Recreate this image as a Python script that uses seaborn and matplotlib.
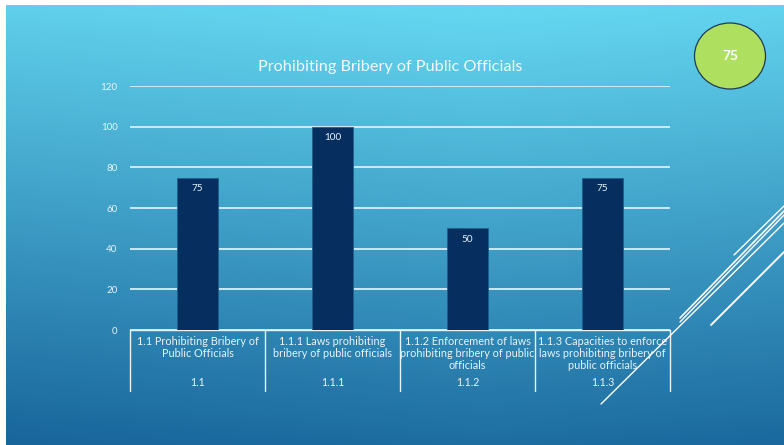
import numpy as np
import pandas as pd
import matplotlib
matplotlib.use("Agg")
import matplotlib.pyplot as plt
from matplotlib.patches import Ellipse
from matplotlib.lines import Line2D
import seaborn as sns

# ---- data -------------------------------------------------------------
categories = [
    "1.1 Prohibiting Bribery of\nPublic Officials",
    "1.1.1 Laws prohibiting\nbribery of public officials",
    "1.1.2 Enforcement of laws\nprohibiting bribery of public\nofficials",
    "1.1.3 Capacities to enforce\nlaws prohibiting bribery of\npublic officials",
]
codes = ["1.1", "1.1.1", "1.1.2", "1.1.3"]
scores = [75, 100, 50, 75]
yticks = [0, 20, 40, 60, 80, 100, 120]
title = "Prohibiting Bribery of Public Officials"
badge_score = 75

df = pd.DataFrame({"code": codes, "score": scores})

# ---- style ------------------------------------------------------------
sns.set_theme(style="white")
plt.rcParams["font.family"] = ["Lato", "DejaVu Sans"]

W, H = 784, 445
fig = plt.figure(figsize=(W / 100, H / 100), dpi=100, facecolor="white")


def fx(px):
    return px / W


def fy(py):
    return 1 - py / H


# slide background gradient
bg = fig.add_axes([fx(6), 0, 1 - fx(6), fy(5)])
bg.set_axis_off()
ny, nx = 200, 300
v = np.linspace(0, 1, ny)[:, None]
u = np.linspace(0, 1, nx)[None, :]
t = np.clip(0.92 * v + 0.12 * np.abs(u - 0.62) - 0.02, 0, 1)
top = np.array([0x64, 0xD6, 0xF0]) / 255
bottom = np.array([0x16, 0x62, 0x99]) / 255
img = top[None, None, :] * (1 - t[..., None]) + bottom[None, None, :] * t[..., None]
bg.imshow(img, aspect="auto", extent=[0, 1, 0, 1], interpolation="bilinear")
bg.set_xlim(0, 1)
bg.set_ylim(0, 1)

# ---- chart ------------------------------------------------------------
ax = fig.add_axes([fx(130), fy(330), fx(670) - fx(130), fy(86) - fy(330)])
ax.patch.set_alpha(0)

sns.barplot(data=df, x="code", y="score", order=codes, color="#062F5F",
            width=0.31, saturation=1, ax=ax, zorder=3,
            edgecolor="#1C5F8E", linewidth=0.6)

light = "#E6F4FA"
ax.set_ylim(0, 120)
ax.set_xlim(-0.5, len(codes) - 0.5)
ax.set_yticks(yticks)
ax.set_yticklabels([str(y) for y in yticks], fontsize=7, color=light)
ax.tick_params(axis="y", length=0, pad=9)
ax.set_xticks([])
ax.set_xlabel("")
ax.set_ylabel("")
for s in ax.spines.values():
    s.set_visible(False)
ax.yaxis.grid(True, color="#D8EFF7", linewidth=1.3, zorder=1)
ax.set_axisbelow(True)

for cont in ax.containers:
    ax.bar_label(cont, labels=[f"{int(h)}" for h in cont.datavalues],
                 padding=-11, fontsize=7.2, color=light)

# two-level category table beneath the axis
tr = ax.get_xaxis_transform()
line_kw = dict(color="#E6F4FA", linewidth=1.0, clip_on=False, transform=tr)
ax.plot([-0.5, len(codes) - 0.5], [0, 0], **line_kw)
depth = -(391 - 330) / (330 - 86)
for b in np.arange(-0.5, len(codes)):
    ax.plot([b, b], [0, depth], **line_kw)
for i, (lab, code) in enumerate(zip(categories, codes)):
    ax.text(i, -0.024, lab, transform=tr, ha="center", va="top",
            fontsize=7.8, color=light, linespacing=1.1)
    ax.text(i, -0.217, code, transform=tr, ha="center", va="center",
            fontsize=7.6, color=light)

fig.text(fx(390), fy(67), title, ha="center", va="center",
         fontsize=11.7, color="#F2FAFD")

# score badge
badge = fig.add_axes([0, 0, 1, 1], zorder=5)
badge.set_axis_off()
badge.set_xlim(0, W)
badge.set_ylim(H, 0)
badge.add_patch(Ellipse((730, 56), 71, 66, facecolor="#AEDF5E",
                        edgecolor="#1F3B55", linewidth=0.9))
badge.text(730, 56, str(badge_score), ha="center", va="center",
           fontsize=10, fontweight="bold", color="white")

# decorative diagonal strokes
strokes = [
    ((601, 404), (784, 223), 1.0),
    ((680, 318), (784, 211), 1.2),
    ((680, 322), (784, 215), 1.0),
    ((734, 255), (784, 206), 1.0),
    ((711, 325), (784, 252), 1.4),
]
for (x0, y0), (x1, y1), lw in strokes:
    badge.add_line(Line2D([x0, x1], [y0, y1], color="white", linewidth=lw))

fig.savefig("out.png", dpi=100, facecolor="white")
